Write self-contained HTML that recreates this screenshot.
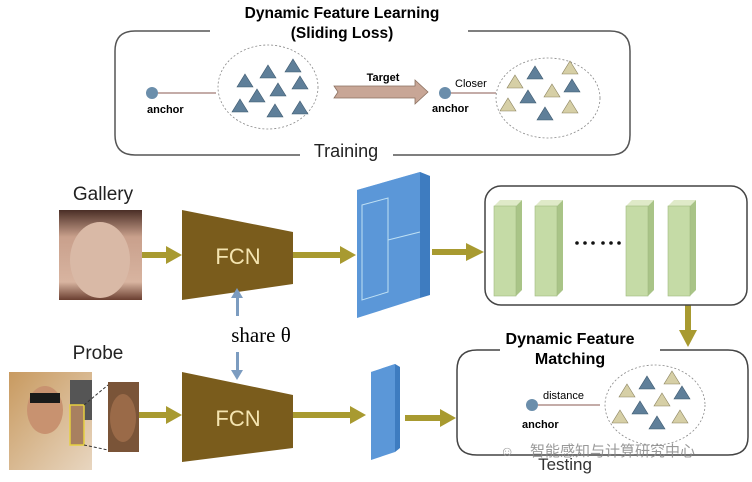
<!DOCTYPE html>
<html><head><meta charset="utf-8"><style>body{margin:0;background:#fff}svg{display:block}</style></head><body>
<svg width="752" height="482" viewBox="0 0 752 482" xmlns="http://www.w3.org/2000/svg" font-family="Liberation Sans, sans-serif">
<defs>
<linearGradient id="face" x1="0" y1="0" x2="0" y2="1"><stop offset="0" stop-color="#4a2e26"/><stop offset="0.3" stop-color="#c9a08c"/><stop offset="0.8" stop-color="#d8b4a0"/><stop offset="1" stop-color="#6a3e30"/></linearGradient>
<linearGradient id="hair" x1="0" y1="0" x2="1" y2="1"><stop offset="0" stop-color="#c89a60"/><stop offset="1" stop-color="#e8d6c0"/></linearGradient>
<g id="tb"><polygon points="0,-7 8,6 -8,6" fill="#5f7f99" stroke="#3e5a70" stroke-width="0.6"/></g>
<g id="ty"><polygon points="0,-7 8,6 -8,6" fill="#d6cfa6" stroke="#8c8460" stroke-width="0.6"/></g>
<g id="gb"><polygon points="0,6 6,0 28,0 22,6" fill="#dfeac8"/><polygon points="22,6 28,0 28,90 22,96" fill="#a9c487"/><rect x="0" y="6" width="22" height="90" fill="#c5dba6" stroke="#9fba80" stroke-width="0.6"/></g>
</defs>
<path d="M210,31 H135 Q115,31 115,51 V135 Q115,155 135,155 H300 M393,155 H610 Q630,155 630,135 V51 Q630,31 610,31 H468" fill="none" stroke="#555" stroke-width="1.5"/>
<text x="342" y="18" font-size="15.5" font-weight="bold" text-anchor="middle">Dynamic Feature Learning</text>
<text x="342" y="38" font-size="15.5" font-weight="bold" text-anchor="middle">(Sliding Loss)</text>
<text x="346" y="157" font-size="18" text-anchor="middle" fill="#222">Training</text>
<ellipse cx="268" cy="87" rx="50" ry="42" fill="none" stroke="#888" stroke-width="0.8" stroke-dasharray="2,2"/>
<circle cx="152" cy="93" r="6" fill="#6b8eab"/><line x1="158" y1="93" x2="216" y2="93" stroke="#8a5a50" stroke-width="1"/>
<text x="147" y="113" font-size="11" font-weight="bold">anchor</text>
<use href="#tb" x="268" y="72"/><use href="#tb" x="293" y="66"/><use href="#tb" x="245" y="81"/><use href="#tb" x="300" y="83"/><use href="#tb" x="278" y="90"/><use href="#tb" x="257" y="96"/><use href="#tb" x="240" y="106"/><use href="#tb" x="275" y="111"/><use href="#tb" x="300" y="108"/>
<polygon points="334,86 415,86 415,80 428,92 415,104 415,98 334,98 338,92" fill="#c8a696" stroke="#8a7060" stroke-width="0.8"/>
<text x="383" y="81" font-size="11" font-weight="bold" text-anchor="middle">Target</text>
<circle cx="445" cy="93" r="6" fill="#6b8eab"/><line x1="451" y1="93" x2="496" y2="93" stroke="#8a5a50" stroke-width="1"/>
<text x="455" y="87" font-size="11">Closer</text>
<text x="432" y="112" font-size="11" font-weight="bold">anchor</text>
<ellipse cx="548" cy="98" rx="52" ry="40" fill="none" stroke="#888" stroke-width="0.8" stroke-dasharray="2,2"/>
<use href="#ty" x="570" y="68"/><use href="#tb" x="535" y="73"/><use href="#ty" x="515" y="82"/><use href="#tb" x="572" y="86"/><use href="#ty" x="552" y="91"/><use href="#tb" x="528" y="97"/><use href="#ty" x="508" y="105"/><use href="#ty" x="570" y="107"/><use href="#tb" x="545" y="114"/>
<text x="103" y="200" font-size="19" text-anchor="middle" fill="#222">Gallery</text>
<rect x="59" y="210" width="83" height="90" fill="url(#face)"/>
<ellipse cx="100" cy="260" rx="30" ry="38" fill="#d9b9a6"/>
<g fill="#a89a30">
<rect x="142" y="252" width="26" height="6"/><polygon points="166,246 182,255 166,264"/>
<rect x="293" y="252" width="48" height="6"/><polygon points="340,246 356,255 340,264"/>
<rect x="432" y="249" width="36" height="6"/><polygon points="466,243 484,252 466,261"/>
<rect x="685" y="305" width="6" height="27"/><polygon points="679,330 697,330 688,347"/>
<rect x="139" y="412" width="29" height="6"/><polygon points="166,406 182,415 166,424"/>
<rect x="293" y="412" width="58" height="6"/><polygon points="350,406 366,415 350,424"/>
<rect x="405" y="415" width="36" height="6"/><polygon points="440,409 456,418 440,427"/>
</g>
<polygon points="182,210 293,232 293,284 182,300" fill="#7a5c1c"/>
<text x="238" y="264" font-size="22" fill="#f4e4b0" text-anchor="middle">FCN</text>
<polygon points="182,372 293,395 293,448 182,462" fill="#7a5c1c"/>
<text x="238" y="426" font-size="22" fill="#f4e4b0" text-anchor="middle">FCN</text>
<g fill="#7c9cc0"><rect x="236" y="296" width="3" height="20"/><polygon points="231,298 237,288 243,298"/><rect x="236" y="352" width="3" height="20"/><polygon points="231,370 237,380 243,370"/></g>
<text x="261" y="342" font-size="21" font-family="Liberation Serif, serif" text-anchor="middle">share θ</text>
<polygon points="357,190 420,172 430,176 367,194" fill="#8fb8e4"/>
<polygon points="420,172 430,176 430,295 420,298" fill="#3e7cc0"/>
<polygon points="357,190 420,172 420,298 357,318" fill="#5b97d8"/>
<path d="M362,205 L388,198 L388,292 L362,300 Z M388,240 L420,232" fill="none" stroke="#bfe0f4" stroke-width="1"/>
<rect x="485" y="186" width="262" height="119" rx="16" fill="none" stroke="#444" stroke-width="1.5"/>
<use href="#gb" x="494" y="200"/><use href="#gb" x="535" y="200"/><use href="#gb" x="626" y="200"/><use href="#gb" x="668" y="200"/>
<g fill="#111"><circle cx="577" cy="243" r="1.8"/><circle cx="585" cy="243" r="1.8"/><circle cx="593" cy="243" r="1.8"/><circle cx="603" cy="243" r="1.8"/><circle cx="611" cy="243" r="1.8"/><circle cx="619" cy="243" r="1.8"/></g>
<text x="98" y="359" font-size="19" text-anchor="middle" fill="#222">Probe</text>
<rect x="9" y="372" width="83" height="98" fill="url(#hair)"/>
<ellipse cx="45" cy="410" rx="18" ry="24" fill="#c89270"/>
<rect x="30" y="393" width="30" height="10" fill="#1a1a1a"/>
<rect x="70" y="380" width="22" height="40" fill="#555"/>
<rect x="70" y="405" width="14" height="40" fill="#a88060" stroke="#e6d040" stroke-width="1.5"/>
<line x1="84" y1="405" x2="108" y2="385" stroke="#333" stroke-dasharray="3,2"/><line x1="84" y1="445" x2="108" y2="450" stroke="#333" stroke-dasharray="3,2"/>
<rect x="108" y="382" width="31" height="70" fill="#7a5438"/>
<ellipse cx="123" cy="418" rx="13" ry="24" fill="#9a6a48"/>
<polygon points="371,372 395,364 400,367 376,375" fill="#8fb8e4"/>
<polygon points="395,364 400,367 400,448 395,452" fill="#3e7cc0"/>
<polygon points="371,372 395,364 395,452 371,460" fill="#5b97d8"/>
<path d="M500,350 H477 Q457,350 457,370 V437 Q457,455 477,455 H728 Q748,455 748,437 V370 Q748,350 728,350 H660" fill="none" stroke="#444" stroke-width="1.5"/>
<text x="570" y="344" font-size="16" font-weight="bold" text-anchor="middle">Dynamic Feature</text>
<text x="570" y="364" font-size="16" font-weight="bold" text-anchor="middle">Matching</text>
<circle cx="532" cy="405" r="6" fill="#6b8eab"/><line x1="538" y1="405" x2="600" y2="405" stroke="#8a5a50" stroke-width="1"/>
<text x="543" y="399" font-size="11">distance</text>
<text x="522" y="428" font-size="11" font-weight="bold">anchor</text>
<ellipse cx="655" cy="405" rx="50" ry="40" fill="none" stroke="#888" stroke-width="0.8" stroke-dasharray="2,2"/>
<use href="#ty" x="672" y="378"/><use href="#tb" x="647" y="383"/><use href="#ty" x="627" y="391"/><use href="#tb" x="682" y="393"/><use href="#ty" x="662" y="400"/><use href="#tb" x="640" y="408"/><use href="#ty" x="620" y="417"/><use href="#ty" x="680" y="417"/><use href="#tb" x="657" y="423"/>
<text x="565" y="470" font-size="17" text-anchor="middle" fill="#333">Testing</text>
<text x="530" y="456" font-size="15" fill="#888" font-family="Liberation Sans, Noto Sans CJK SC, sans-serif" opacity="0.85">智能感知与计算研究中心</text>
<text x="500" y="456" font-size="14" fill="#999">☺</text>
</svg>
</body></html>
